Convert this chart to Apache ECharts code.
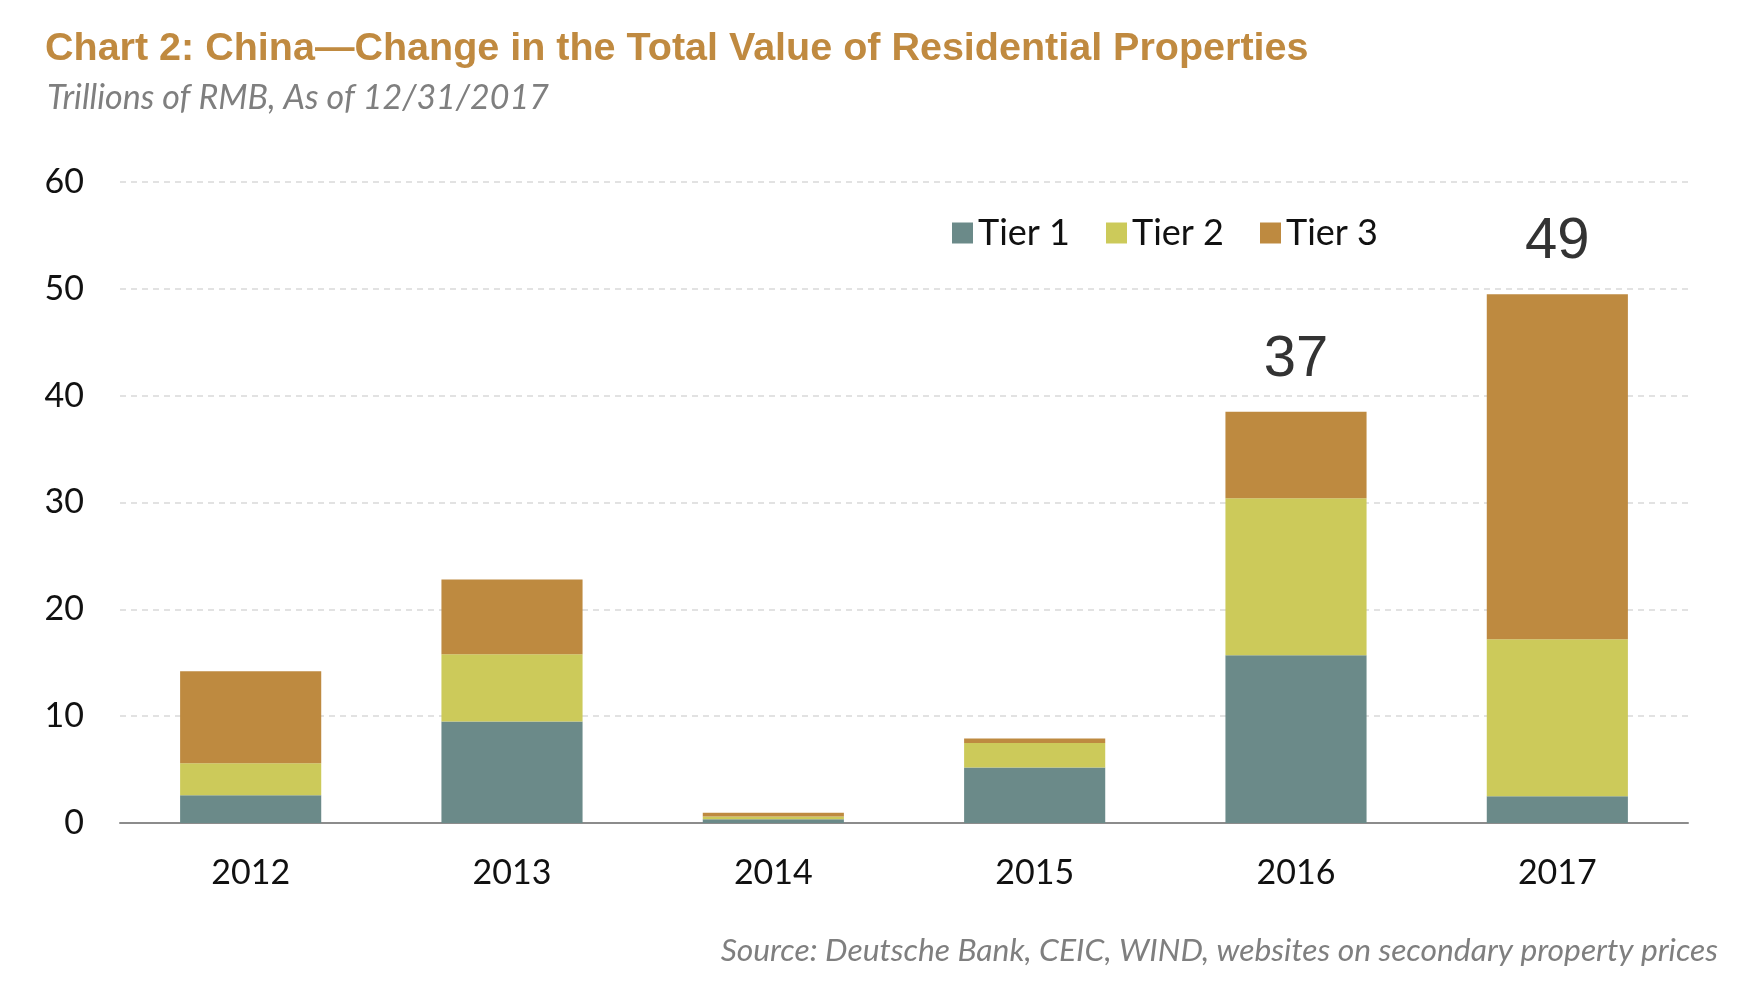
<!DOCTYPE html>
<html>
<head>
<meta charset="utf-8">
<script src="https://cdn.jsdelivr.net/npm/echarts@6/dist/echarts.min.js"></script>
<style>
  html, body { margin: 0; padding: 0; background: #fff; }
  #chart { width: 1757px; height: 1006px; }
</style>
</head>
<body>
<div id="chart"></div>
<script>
// values (trillions of RMB)
const years = ['2012', '2013', '2014', '2015', '2016', '2017'];
const tier1 = [2.6, 9.5, 0.35, 5.2, 15.7, 2.5];
const tier2 = [3.0, 6.3, 0.25, 2.3, 14.7, 14.7];
const tier3 = [8.6, 7.0, 0.35, 0.4, 8.1, 32.3];
const totalLabels = ['', '', '', '', '37', '49'];

const colors = ['#6b8a89', '#ccca5a', '#be8a40'];
const tickFont = 'Lato, "Open Sans", sans-serif';

const chart = echarts.init(document.getElementById('chart'));

const option = {
    backgroundColor: '#fff',
    animation: false,
    title: [
        {
            text: 'Chart 2: China\u2014Change in the Total Value of Residential Properties',
            left: 40,
            top: 24,
            textStyle: {
                fontFamily: '"Liberation Sans", Arial, sans-serif',
                fontWeight: 'bold',
                fontSize: 39.5,
                color: '#c08a40'
            }
        },
        {
            text: 'Trillions of RMB, As of 12/31/2017',
            left: 42,
            top: 76,
            textStyle: {
                fontFamily: tickFont,
                fontStyle: 'italic',
                fontWeight: 'normal',
                fontSize: 34,
                color: '#7f7f7f'
            }
        },
        {
            text: 'Source: Deutsche Bank, CEIC, WIND, websites on secondary property prices',
            right: 34,
            top: 930,
            textStyle: {
                fontFamily: tickFont,
                fontStyle: 'italic',
                fontWeight: 'normal',
                fontSize: 31.8,
                color: '#7f7f7f'
            }
        }
    ],
    legend: {
        left: 947,
        top: 210,
        itemWidth: 21,
        itemHeight: 21,
        itemGap: 36,
        icon: 'rect',
        textStyle: {
            fontFamily: tickFont,
            fontSize: 36,
            color: '#111'
        },
        data: ['Tier 1', 'Tier 2', 'Tier 3']
    },
    grid: {
        left: 120,
        right: 69,
        top: 182,
        bottom: 183
    },
    xAxis: {
        type: 'category',
        data: years,
        axisTick: { show: false },
        axisLine: { lineStyle: { color: '#8c8c8c', width: 2 } },
        axisLabel: {
            margin: 33,
            fontFamily: tickFont,
            fontSize: 34,
            color: '#111'
        }
    },
    yAxis: {
        type: 'value',
        min: 0,
        max: 60,
        interval: 10,
        axisLine: { show: false },
        axisTick: { show: false },
        axisLabel: {
            margin: 36,
            fontFamily: tickFont,
            fontSize: 34,
            color: '#111'
        },
        splitLine: {
            lineStyle: { color: '#d9d9d9', type: [6, 5], width: 1.5 }
        }
    },
    series: [
        {
            name: 'Tier 1',
            type: 'bar',
            stack: 'total',
            barWidth: '54%',
            itemStyle: { color: colors[0] },
            data: tier1
        },
        {
            name: 'Tier 2',
            type: 'bar',
            stack: 'total',
            itemStyle: { color: colors[1] },
            data: tier2
        },
        {
            name: 'Tier 3',
            type: 'bar',
            stack: 'total',
            itemStyle: { color: colors[2] },
            label: {
                show: true,
                position: 'top',
                distance: 23,
                fontFamily: '"Liberation Sans", Arial, sans-serif',
                fontSize: 58,
                color: '#333',
                formatter: function (params) {
                    return totalLabels[params.dataIndex];
                }
            },
            data: tier3
        }
    ]
};

chart.setOption(option);
</script>
</body>
</html>
